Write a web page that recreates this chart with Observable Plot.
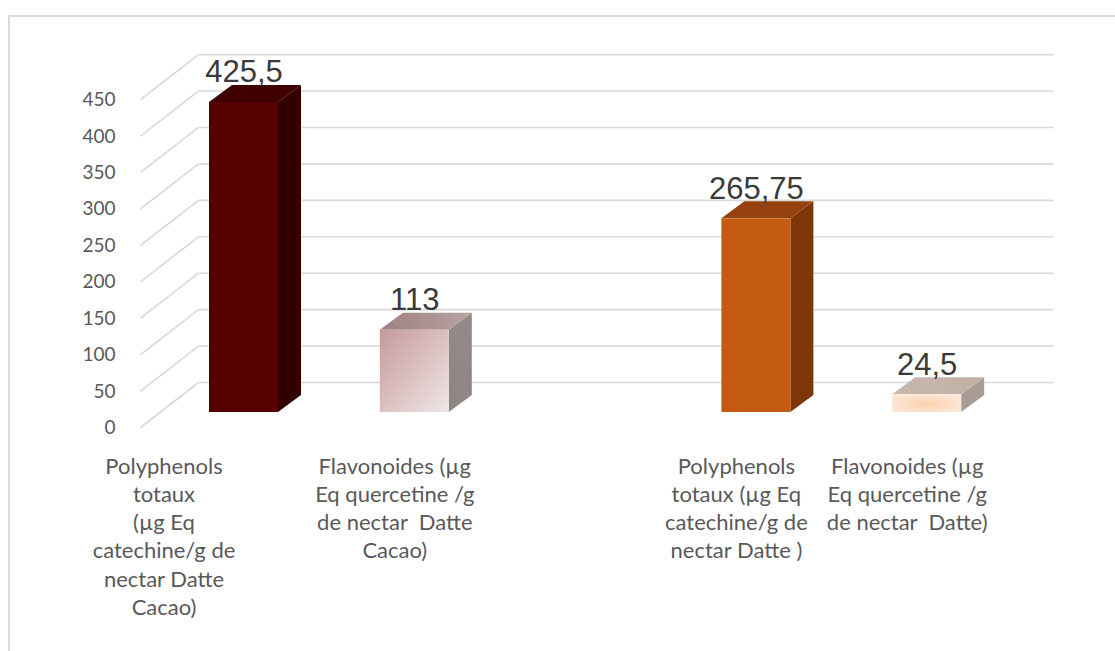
<!DOCTYPE html>
<html><head><meta charset="utf-8">
<script src="https://cdn.jsdelivr.net/npm/d3@7"></script>
<script src="https://cdn.jsdelivr.net/npm/@observablehq/plot@0.6"></script>
<style>
html,body{margin:0;padding:0;background:#fff;}
#chart{position:relative;width:1115px;height:651px;overflow:hidden;}
#border{position:absolute;left:8px;top:15px;right:-10px;bottom:-10px;border-left:2px solid #dcdcdc;border-top:2px solid #dcdcdc;}
</style></head><body><div id="chart"><div id="border"></div></div>
<script>
// ---- data ----
const categories = [
  "Polyphenols\ntotaux\n(µg Eq\ncatechine/g de\nnectar Datte\nCacao)",
  "Flavonoides (µg\nEq quercetine /g\nde nectar  Datte\nCacao)",
  "Polyphenols\ntotaux (µg Eq\ncatechine/g de\nnectar Datte )",
  "Flavonoides (µg\nEq quercetine /g\nde nectar  Datte)"
];
const values = [425.5, 113, 265.75, 24.5];
// category axis includes one blank category between the two groups (as in the source chart)
const xDomain = [categories[0], categories[1], "", categories[2], categories[3]];
const yTicks = [0, 50, 100, 150, 200, 250, 300, 350, 400, 450];

// ---- styles ----
const frontFill = ["#560000", "url(#g2front)", "#c55a11", "url(#g4front)"];
const sideFill  = ["#330000", "url(#g2side)", "#7e3609", "#a89d95"];
const topFill   = ["#410000", "url(#g2top)", "#954110", "url(#g4top)"];

// ---- geometry helpers (scale units) ----
const xRange = [243.5, 926.7], yRange = [412, 84.1];
const xs = d3.scaleLinear([0, 4], xRange), ys = d3.scaleLinear([0, 450], yRange);
const pxX = p => p / (xs(1) - xs(0));            // pixels -> slot units
const pxY = p => p / (ys(0) - ys(1));            // pixels -> value units (upward)
const halfW = pxX(34.5), depthX = pxX(23), depthY = pxY(17);
const backX = pxX(-45.5), backY = pxY(30), frontX = pxX(-103.5), frontY = pxY(-15), endX = pxX(1053 - 243.5);

const bars = values.map((v, i) => ({cat: categories[i], v, s: xDomain.indexOf(categories[i]), i}));
const fmt = v => String(v).replace(".", ",");
const font = "Lato, 'Open Sans', sans-serif";

const marks = [];
// back wall gridlines + diagonal side-wall lines
marks.push(Plot.link(yTicks, {x1: frontX, y1: t => t + frontY, x2: backX, y2: t => t + backY, stroke: "#d9d9d9", strokeWidth: 1.6}));
marks.push(Plot.link(yTicks, {x1: backX, y1: t => t + backY, x2: endX, y2: t => t + backY, stroke: "#d9d9d9", strokeWidth: 1.6}));
// 3D bars
for (const b of bars) {
  marks.push(Plot.areaY([{x: b.s + halfW, y1: 0, y2: b.v}, {x: b.s + halfW + depthX, y1: depthY, y2: b.v + depthY}],
    {x: "x", y1: "y1", y2: "y2", fill: sideFill[b.i]}));
  marks.push(Plot.areaX([{y: b.v, x1: b.s - halfW, x2: b.s + halfW}, {y: b.v + depthY, x1: b.s - halfW + depthX, x2: b.s + halfW + depthX}],
    {y: "y", x1: "x1", x2: "x2", fill: topFill[b.i]}));
  marks.push(Plot.rect([b], {x1: d => d.s - halfW, x2: d => d.s + halfW, y1: 0, y2: "v", fill: frontFill[b.i]}));
}
// value labels
marks.push(Plot.text(bars, {x: "s", y: d => d.v + depthY, text: d => fmt(d.v), dy: -3, lineAnchor: "bottom",
  fontSize: 31, fill: "#3a3a3a", fontFamily: "'Liberation Sans', Arial, sans-serif"}));
// category labels
marks.push(Plot.text(bars.filter(d => d.i > 0), {x: "s", text: "cat", frameAnchor: "bottom", lineAnchor: "top", dx: -20,
  fontSize: 22, lineHeight: 1.286, fill: "#595959", fontFamily: font}));
marks.push(Plot.text(bars.filter(d => d.i === 0), {x: "s", text: "cat", frameAnchor: "bottom", lineAnchor: "top", dx: -80,
  fontSize: 22, lineHeight: 1.286, fill: "#595959", fontFamily: font}));
// y axis
marks.push(Plot.axisY(yTicks, {tickSize: 0, tickPadding: 0, dy: 15.5, fontSize: 19, fontFamily: font, color: "#595959", label: null}));

const chart = Plot.plot({
  width: 1115, height: 651,
  marginLeft: 115, marginTop: 20, marginRight: 20, marginBottom: 198,
  x: {type: "linear", domain: [0, 4], range: xRange, axis: null},
  y: {domain: [0, 450], range: yRange},
  style: {background: "transparent", fontFamily: font, color: "#595959", overflow: "visible"},
  marks
});
const defs = document.createElementNS("http://www.w3.org/2000/svg", "defs");
defs.innerHTML = `
 <linearGradient id="g2front" x1="0" y1="0" x2="1" y2="1"><stop offset="0" stop-color="#c69a9b"/><stop offset="1" stop-color="#f0e6e6"/></linearGradient>
 <linearGradient id="g2side" x1="0" y1="0" x2="0" y2="1"><stop offset="0" stop-color="#958989"/><stop offset="1" stop-color="#8f8585"/></linearGradient>
 <linearGradient id="g2top" x1="0" y1="0" x2="1" y2="0"><stop offset="0" stop-color="#a08080"/><stop offset="1" stop-color="#b7a3a3"/></linearGradient>
 <radialGradient id="g4front" cx="0.5" cy="0.55" r="0.6"><stop offset="0" stop-color="#fbd0ad"/><stop offset="1" stop-color="#fde8d8"/></radialGradient>
 <linearGradient id="g4top" x1="0" y1="0" x2="1" y2="0"><stop offset="0" stop-color="#c8b8ad"/><stop offset="1" stop-color="#bfafa4"/></linearGradient>`;
chart.insertBefore(defs, chart.firstChild);
chart.style.position = "absolute"; chart.style.left = "0"; chart.style.top = "0";
document.getElementById("chart").appendChild(chart);
</script>
</body></html>
